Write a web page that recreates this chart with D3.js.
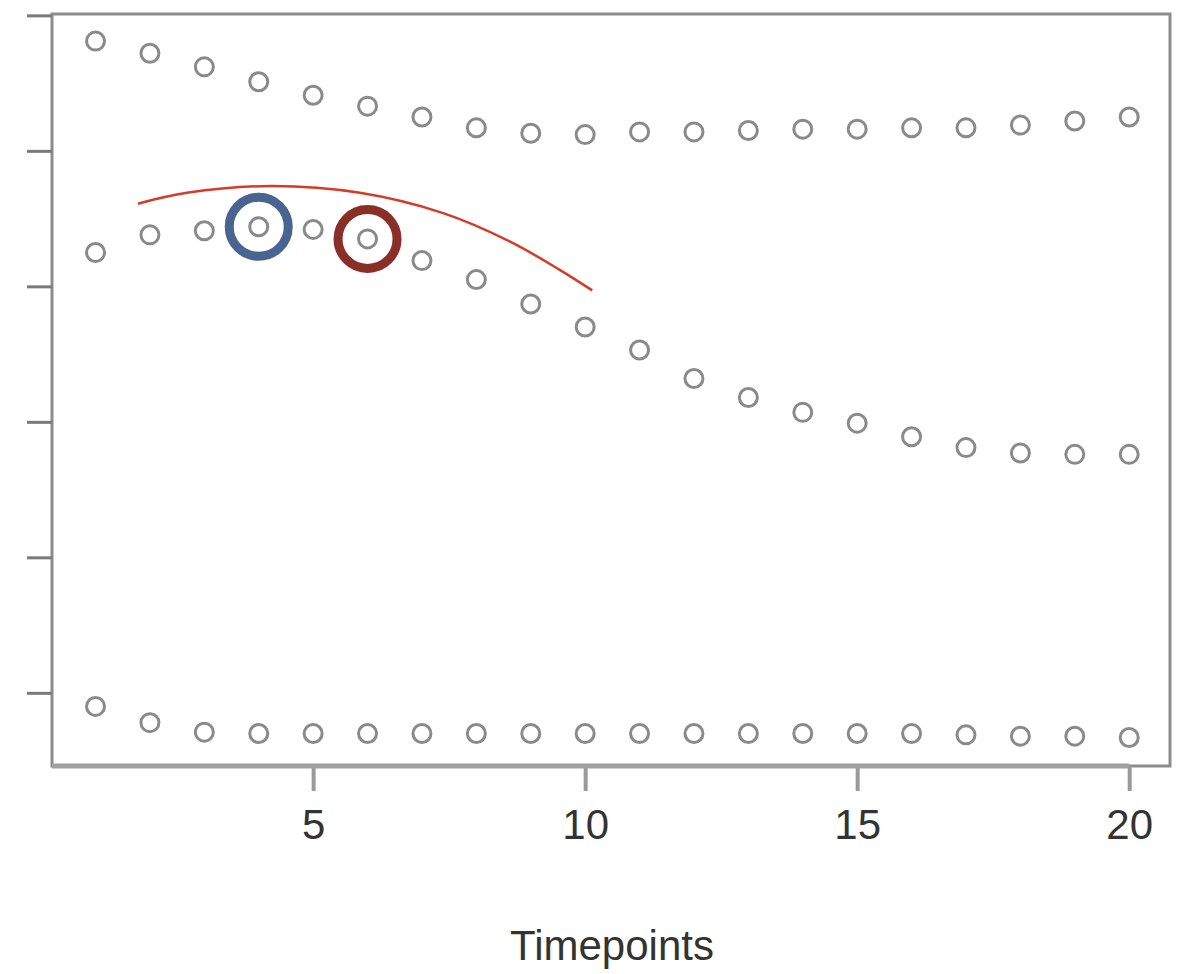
<!DOCTYPE html>
<html>
<head>
<meta charset="utf-8">
<script src="https://cdn.jsdelivr.net/npm/d3@7"></script>
<style>
  body { margin: 0; background: #fff; }
  svg text { font-family: "Liberation Sans", Arial, sans-serif; fill: #333; }
</style>
</head>
<body>
<div id="chart"></div>
<script>
// timepoints 1..20
const timepoints = d3.range(1, 21);

// three series
const upperSeries = [4.81, 4.72, 4.62, 4.51, 4.41, 4.33, 4.25, 4.17, 4.13, 4.12,
                     4.14, 4.14, 4.15, 4.16, 4.16, 4.17, 4.17, 4.19, 4.22, 4.25];
const middleSeries = [3.25, 3.38, 3.41, 3.44, 3.42, 3.35, 3.19, 3.05, 2.87, 2.70,
                      2.53, 2.32, 2.18, 2.07, 1.99, 1.89, 1.81, 1.77, 1.76, 1.76];
const lowerSeries = [-0.10, -0.22, -0.29, -0.30, -0.30, -0.30, -0.30, -0.30, -0.30, -0.30,
                     -0.30, -0.30, -0.30, -0.30, -0.30, -0.30, -0.31, -0.32, -0.32, -0.33];

const xTicks = [5, 10, 15, 20];
const yTicks = [0, 1, 2, 3, 4, 5];

// hand-drawn red arc over the middle series
const arcX = [1.78, 2.68, 4.21, 5.86, 7.39, 8.62, 9.54, 10.13];
const arcY = [3.61, 3.69, 3.74, 3.69, 3.54, 3.33, 3.12, 2.97];

// highlighted points (timepoint in middle series)
const highlights = [
    { t: 4, color: '#4a6491' },
    { t: 6, color: '#8a2f27' }
];

const width = 1190, height = 974;
const plot = { left: 52, right: 1170, top: 14, bottom: 766 };

const svg = d3.select('#chart').append('svg')
    .attr('width', width)
    .attr('height', height);

const x = d3.scaleLinear()
    .domain([0.2, 20.75])
    .range([plot.left, plot.right]);

const y = d3.scaleLinear()
    .domain([-0.54, 5.01])
    .range([plot.bottom, plot.top]);

// box
svg.append('rect')
    .attr('x', plot.left)
    .attr('y', plot.top)
    .attr('width', plot.right - plot.left)
    .attr('height', plot.bottom - plot.top)
    .attr('fill', 'none')
    .attr('stroke', '#8c8c8c')
    .attr('stroke-width', 3);

// left axis, ticks only
const yAxis = svg.append('g')
    .attr('transform', `translate(${plot.left},0)`)
    .call(d3.axisLeft(y).tickValues(yTicks).tickSize(25).tickFormat(''));
yAxis.select('.domain').remove();
yAxis.selectAll('.tick line').attr('stroke', '#7a7a7a').attr('stroke-width', 3);

// bottom axis
const xAxis = svg.append('g')
    .attr('transform', `translate(0,${plot.bottom})`)
    .call(d3.axisBottom(x).tickValues(xTicks).tickSize(25).tickPadding(40));
xAxis.select('.domain').remove();
xAxis.selectAll('.tick line').attr('stroke', '#9a9a9a').attr('stroke-width', 4);
xAxis.selectAll('.tick text')
    .style('font-size', '42px')
    .attr('fill', '#2a2a2a')
    .attr('dy', '0.2em');

svg.append('line')
    .attr('x1', plot.left).attr('x2', x(20))
    .attr('y1', plot.bottom).attr('y2', plot.bottom)
    .attr('stroke', '#a0a0a0')
    .attr('stroke-width', 5);

svg.append('text')
    .attr('x', 612)
    .attr('y', 960)
    .attr('text-anchor', 'middle')
    .style('font-size', '42px')
    .attr('fill', '#2a2a2a')
    .text('Timepoints');

// points
const series = [upperSeries, middleSeries, lowerSeries];
series.forEach(vals => {
    svg.append('g').selectAll('circle')
        .data(vals)
        .enter()
        .append('circle')
        .attr('cx', (d, i) => x(timepoints[i]))
        .attr('cy', d => y(d))
        .attr('r', 9)
        .attr('fill', 'none')
        .attr('stroke', '#8a8a8a')
        .attr('stroke-width', 3);
});

// red arc
const arcPts = arcX.map((v, i) => [v, arcY[i]]);
svg.append('path')
    .datum(arcPts)
    .attr('d', d3.line().x(d => x(d[0])).y(d => y(d[1])).curve(d3.curveCatmullRom))
    .attr('fill', 'none')
    .attr('stroke', '#d63b26')
    .attr('stroke-width', 2.5);

// highlight rings
svg.append('g').selectAll('circle')
    .data(highlights)
    .enter()
    .append('circle')
    .attr('cx', d => x(d.t))
    .attr('cy', d => y(middleSeries[d.t - 1]))
    .attr('r', 29.5)
    .attr('fill', 'none')
    .attr('stroke', d => d.color)
    .attr('stroke-width', 9);
</script>
</body>
</html>
